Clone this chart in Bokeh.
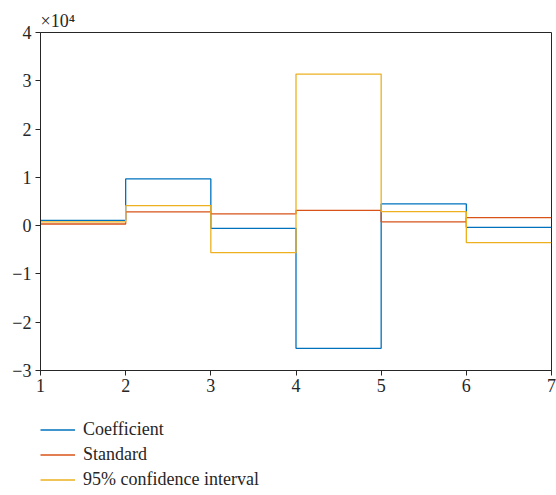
from bokeh.plotting import figure
from bokeh.layouts import column
from bokeh.models import Legend, LegendItem, FixedTicker, Title
from bokeh.embed import file_html
from bokeh.resources import INLINE

# interval edges and per-interval values
edges = [1, 2, 3, 4, 5, 6, 7]
coefficient = [1100, 9680, -560, -25400, 4500, -350]
standard = [340, 2840, 2420, 3170, 770, 1660]
conf95 = [770, 4140, -5600, 31400, 2900, -3500]
series_names = ["Coefficient", "Standard", "95% confidence interval"]

x_ticks = [1, 2, 3, 4, 5, 6, 7]
y_ticks = [-30000, -20000, -10000, 0, 10000, 20000, 30000, 40000]
y_tick_labels = ["\u22123", "\u22122", "\u22121", "0", "1", "2", "3", "4"]

FONT = "Liberation Serif"
COLORS = ["#0072BD", "#D95319", "#EDB120"]

p = figure(width=556, height=400, x_range=(1, 7), y_range=(-30000, 40000),
           output_backend="svg", toolbar_location=None,
           min_border_left=40, min_border_top=32, min_border_right=5, min_border_bottom=30)
p.background_fill_color = "white"
p.border_fill_color = "white"
p.grid.visible = False
p.outline_line_color = "#262626"
p.outline_line_width = 1

def stepped(vals):
    return list(vals) + [vals[-1]]

for vals, col in zip([coefficient, standard, conf95], COLORS):
    p.step(edges, stepped(vals), mode="after", line_color=col, line_width=1.3)

for ax in (p.xaxis[0], p.yaxis[0]):
    ax.axis_line_color = "#262626"
    ax.major_tick_line_color = "#262626"
    ax.minor_tick_line_color = None
    ax.major_tick_out = 5
    ax.major_tick_in = 0
    ax.major_label_text_font = FONT
    ax.major_label_text_font_size = "18px"
    ax.major_label_text_color = "#262626"

p.xaxis.ticker = FixedTicker(ticks=x_ticks)
p.xaxis.major_label_standoff = 3
p.yaxis.ticker = FixedTicker(ticks=y_ticks)
p.yaxis.major_label_overrides = {t: s for t, s in zip(y_ticks, y_tick_labels)}
p.yaxis.major_label_standoff = 4

p.add_layout(Title(text="\u00d710\u2074", text_font=FONT, text_font_size="18px",
                   text_font_style="normal", text_color="#262626",
                   align="left", offset=0, standoff=4), "above")

# legend panel below the chart (its sample lines lie outside its own view)
lg = figure(width=556, height=95, x_range=(0, 1), y_range=(0, 1),
            output_backend="svg", toolbar_location=None,
            x_axis_location=None, y_axis_location=None,
            min_border_left=0, min_border_right=0, min_border_top=0, min_border_bottom=0)
lg.grid.visible = False
lg.outline_line_color = None
lg.background_fill_color = "white"
lg.border_fill_color = "white"

items = []
for name, col in zip(series_names, COLORS):
    r = lg.line(x=[5, 6], y=[5, 6], line_color=col, line_width=1.3)
    items.append(LegendItem(label=name, renderers=[r]))

legend = Legend(items=items, location=(0, 4), orientation="vertical",
                glyph_width=35, glyph_height=23, label_height=23,
                label_standoff=8, spacing=2, padding=0, margin=0,
                label_text_font=FONT, label_text_font_size="18px",
                label_text_color="#262626",
                border_line_alpha=0, background_fill_alpha=0)
lg.add_layout(legend, "center")

layout = column(p, lg, spacing=0)
open("out.html", "w").write(file_html(layout, INLINE))
